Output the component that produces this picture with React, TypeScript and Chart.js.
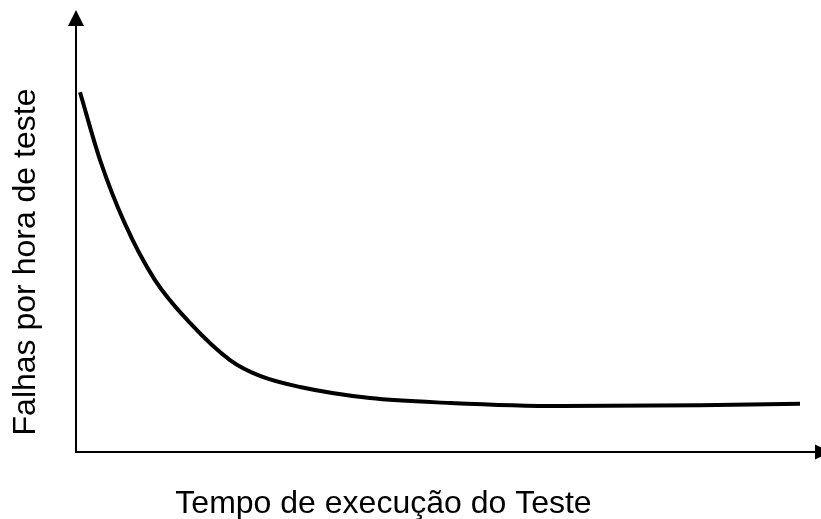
import React, { useEffect, useRef } from "react";
import { Chart, registerables } from "chart.js";

Chart.register(...registerables);

const xTitle = "Tempo de execução do Teste";
const yTitle = "Falhas por hora de teste";

const timeValues = [0.54, 3.22, 6.58, 10.6, 15.3, 20.67, 24.7, 30.07, 39.46, 50.2, 64.97, 83.76, 97.18];
const failureRates = [81.4, 66.1, 51.6, 38.9, 29.2, 20.8, 17.2, 14.7, 12.2, 11.1, 10.4, 10.6, 10.9];

const axesPlugin = {
  id: "arrowAxes",
  afterDatasetsDraw(chart: any) {
    const { ctx, chartArea, scales } = chart;
    const x0 = scales.x.getPixelForValue(0);
    const y0 = scales.y.getPixelForValue(0);
    ctx.save();
    ctx.strokeStyle = "#000";
    ctx.fillStyle = "#000";
    ctx.lineWidth = 2;
    // y axis
    ctx.beginPath();
    ctx.moveTo(x0, y0 + 1);
    ctx.lineTo(x0, chartArea.top + 14);
    ctx.stroke();
    ctx.beginPath();
    ctx.moveTo(x0, chartArea.top);
    ctx.lineTo(x0 - 8, chartArea.top + 16);
    ctx.lineTo(x0 + 8, chartArea.top + 16);
    ctx.closePath();
    ctx.fill();
    // x axis
    const tip = chartArea.right + 10;
    ctx.beginPath();
    ctx.moveTo(x0 - 1, y0);
    ctx.lineTo(tip - 14, y0);
    ctx.stroke();
    ctx.beginPath();
    ctx.moveTo(tip, y0);
    ctx.lineTo(tip - 16, y0 - 7.5);
    ctx.lineTo(tip - 16, y0 + 7.5);
    ctx.closePath();
    ctx.fill();

    // titles
    ctx.font = "32px 'Liberation Sans', Arial, sans-serif";
    ctx.textAlign = "center";
    ctx.textBaseline = "alphabetic";
    ctx.fillText(xTitle, 383.5, chartArea.bottom + 61);
    ctx.save();
    ctx.translate(35, 262);
    ctx.rotate(-Math.PI / 2);
    ctx.fillText(yTitle, 0, 0);
    ctx.restore();
    ctx.restore();
  },
};

export default function App() {
  const ref = useRef<HTMLCanvasElement>(null);
  useEffect(() => {
    if (!ref.current) return;
    const chart = new Chart(ref.current, {
      type: "line",
      data: {
        datasets: [
          {
            data: timeValues.map((t, i) => ({ x: t, y: failureRates[i] })),
            borderColor: "#000",
            borderWidth: 4,
            pointRadius: 0,
            cubicInterpolationMode: "monotone",
            fill: false,
          },
        ],
      },
      options: {
        animation: false,
        responsive: false,
        maintainAspectRatio: false,
        layout: { padding: { left: 76, right: 0, top: 10, bottom: 67 } },
        plugins: { legend: { display: false }, tooltip: { enabled: false } },
        scales: {
          x: { type: "linear", min: 0, max: 100, display: false },
          y: { type: "linear", min: 0, max: 100, display: false },
        },
      },
      plugins: [axesPlugin],
    });
    return () => chart.destroy();
  }, []);
  return (
    <div style={{ position: "fixed", left: 0, top: 0, width: 821, height: 519, background: "#fff" }}>
      <canvas ref={ref} width={821} height={519} style={{ display: "block" }} />
    </div>
  );
}
